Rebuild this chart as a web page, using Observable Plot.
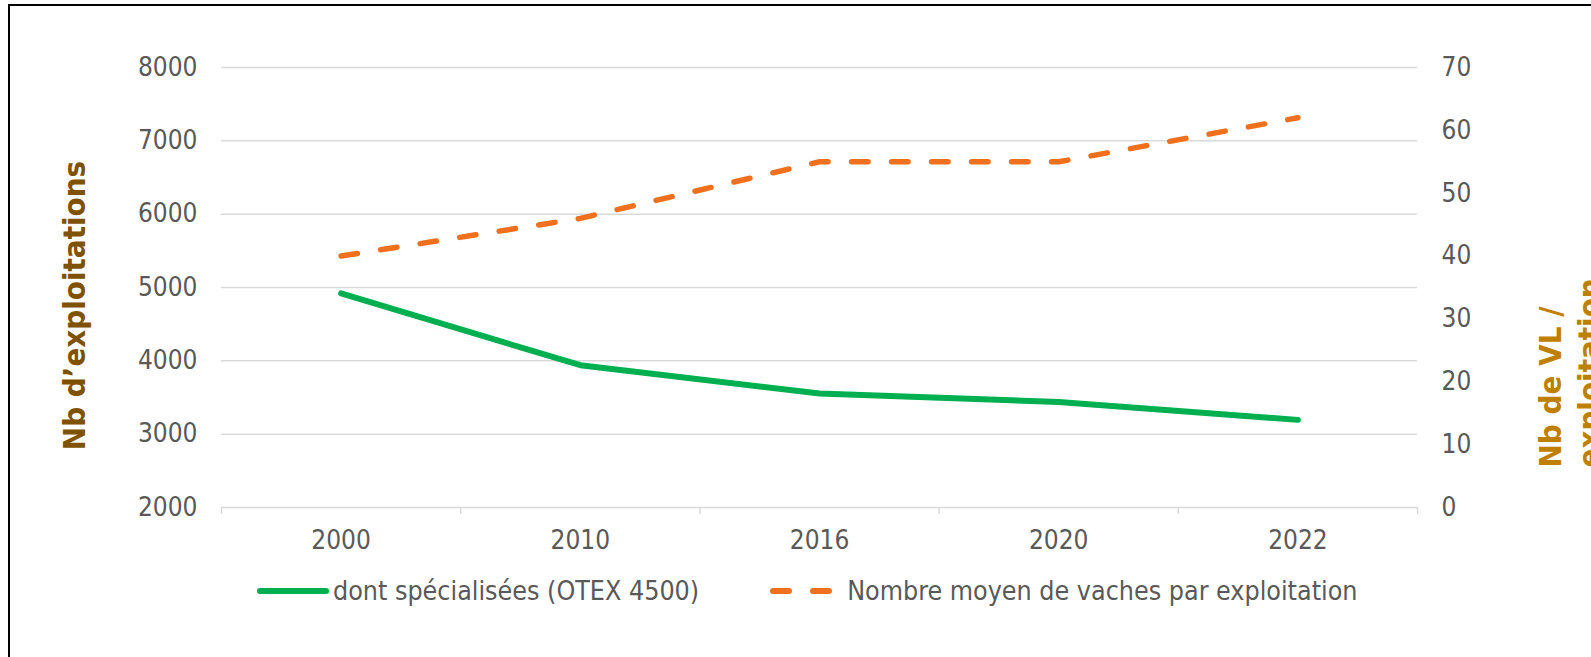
<!DOCTYPE html>
<html><head><meta charset="utf-8">
<script src="https://cdn.jsdelivr.net/npm/d3@7"></script>
<script src="https://cdn.jsdelivr.net/npm/@observablehq/plot@0.6"></script>
<style>
html,body{margin:0;padding:0;background:#fff;}
body{width:1591px;height:657px;overflow:hidden;position:relative;font-family:"DejaVu Sans Condensed","DejaVu Sans",sans-serif;}
#frame{position:absolute;left:8px;top:4px;width:1700px;height:700px;border-top:2px solid #000;border-left:2px solid #000;}
#chart{position:absolute;left:0;top:0;}
#legend{position:absolute;left:257px;top:576px;display:flex;align-items:center;font-size:26.6px;line-height:30px;color:#595959;white-space:nowrap;}
#legend .item{display:flex;align-items:center;}
#legend svg{display:block;}
</style></head><body>
<div id="frame"></div>
<div id="chart"></div>
<div id="legend"></div>
<script>
// ---- data ----
const years = ["2000", "2010", "2016", "2020", "2022"];
const specialisees = [4920, 3940, 3555, 3440, 3195];   // left axis : Nb d'exploitations
const vachesMoyen = [40, 46, 55, 55, 62];               // right axis : Nb de VL / exploitation
const leftTicks = [2000, 3000, 4000, 5000, 6000, 7000, 8000];
const rightTicks = [0, 10, 20, 30, 40, 50, 60, 70];
const seriesNames = ["dont spécialisées (OTEX 4500)", "Nombre moyen de vaches par exploitation"];
const leftTitle = "Nb d’exploitations";
const rightTitle = "Nb de VL /\nexploitation";

const GREEN = "#00b050", ORANGE = "#f0701e", GRID = "#d9d9d9", TEXT = "#595959";

// right axis (0-70) mapped onto left axis (2000-8000)
const r2l = d3.scaleLinear([0, 70], [2000, 8000]);

const rows = years.map((year, i) => ({i, year, expl: specialisees[i], vl: vachesMoyen[i]}));
const bounds = d3.range(years.length + 1).map(k => k - 0.5);

const chart = Plot.plot({
  width: 1591,
  height: 560,
  marginLeft: 221,
  marginRight: 174,
  marginTop: 67,
  marginBottom: 53,
  style: {fontFamily: '"DejaVu Sans Condensed","DejaVu Sans",sans-serif', fontSize: "26px", color: TEXT, background: "transparent", overflow: "visible"},
  x: {type: "linear", domain: [-0.5, years.length - 0.5], axis: null},
  y: {domain: [2000, 8000], axis: null},
  marks: [
    Plot.gridY(leftTicks, {stroke: GRID, strokeOpacity: 1, strokeWidth: 1.5}),
    Plot.axisX(bounds, {tickSize: 7, stroke: GRID, strokeWidth: 1.5, strokeOpacity: 1, tickFormat: () => "", label: null}),
    Plot.axisX(d3.range(years.length), {tickSize: 0, tickPadding: 23, tickFormat: i => years[i], fill: TEXT, label: null}),
    Plot.axisY(leftTicks, {anchor: "left", tickSize: 0, tickPadding: 24, fill: TEXT, label: null, tickFormat: d3.format("d")}),
    Plot.axisY(rightTicks.map(r2l), {anchor: "right", tickSize: 0, tickPadding: 24, fill: TEXT, label: null,
      tickFormat: d => d3.format("d")(Math.round(r2l.invert(d)))}),
    Plot.line(rows, {x: "i", y: "expl", stroke: GREEN, strokeWidth: 6, strokeLinecap: "round", strokeLinejoin: "round"}),
    Plot.line(rows, {x: "i", y: d => r2l(d.vl), stroke: ORANGE, strokeWidth: 5.5, strokeLinecap: "round", strokeLinejoin: "round", strokeDasharray: "16.5,23.5"}),
    Plot.text([leftTitle], {frameAnchor: "left", rotate: -90, lineAnchor: "top", textAnchor: "middle",
      dx: -159, dy: 18, fontSize: 31, fontWeight: "bold", fill: "#7f5200"}),
    Plot.text([rightTitle], {frameAnchor: "right", rotate: -90, lineAnchor: "bottom", textAnchor: "start", lineHeight: 1.25,
      dx: 182, dy: 180, fontSize: 31, fontWeight: "bold", fill: "#bf8000"})
  ]
});
document.getElementById("chart").appendChild(chart);

// ---- legend (below the plot) ----
const legend = d3.select("#legend");
const it1 = legend.append("div").attr("class", "item");
const s1 = it1.append("svg").attr("width", 72).attr("height", 10);
s1.append("line").attr("x1", 3).attr("x2", 69).attr("y1", 5).attr("y2", 5)
  .attr("stroke", GREEN).attr("stroke-width", 6).attr("stroke-linecap", "round");
it1.append("span").style("margin-left", "4px").text(seriesNames[0]);
const it2 = legend.append("div").attr("class", "item").style("margin-left", "71px");
const s2 = it2.append("svg").attr("width", 63).attr("height", 10);
s2.append("line").attr("x1", 3).attr("x2", 60).attr("y1", 5).attr("y2", 5)
  .attr("stroke", ORANGE).attr("stroke-width", 6).attr("stroke-linecap", "round").attr("stroke-dasharray", "16,24");
it2.append("span").style("margin-left", "14px").text(seriesNames[1]);
</script>
</body></html>
